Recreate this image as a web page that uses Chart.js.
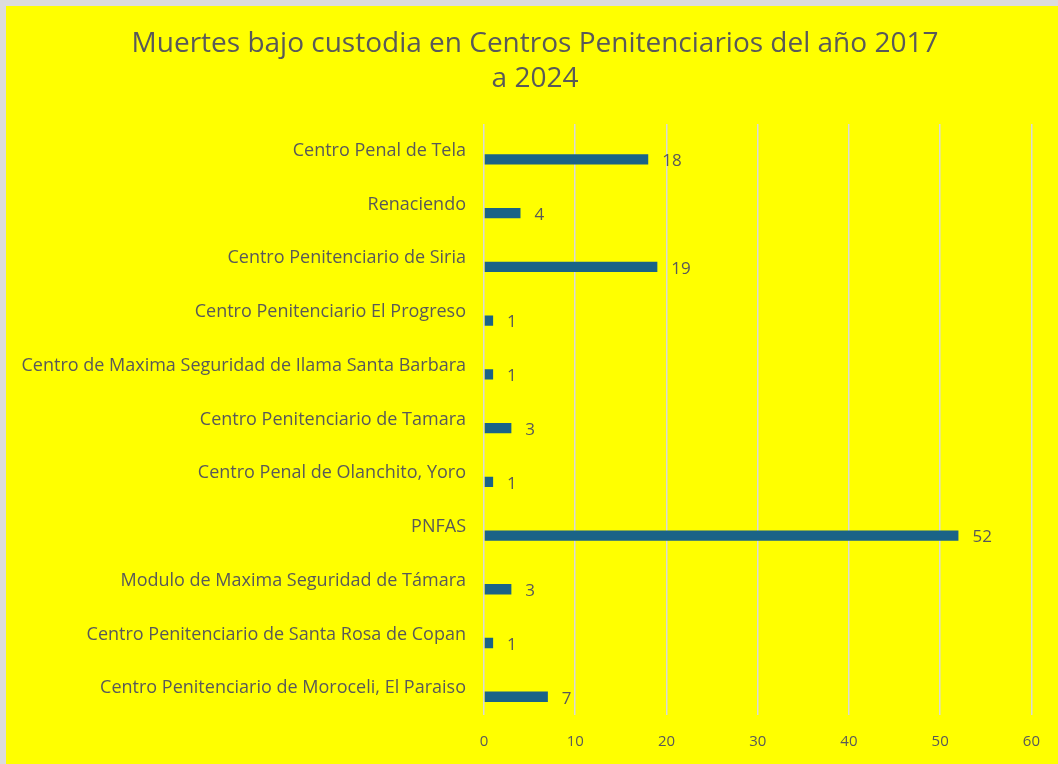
<!DOCTYPE html>
<html>
<head>
<meta charset="utf-8">
<script src="https://cdn.jsdelivr.net/npm/chart.js@4.4.1/dist/chart.umd.min.js"></script>
<style>
  html, body { margin: 0; padding: 0; background: #dcdcdc; }
  #wrap { position: absolute; left: 6px; top: 6px; width: 1052px; height: 758px; background: #ffff00; }
</style>
</head>
<body>
<div id="wrap"><canvas id="c" width="1052" height="758"></canvas></div>
<script>
// categories top -> bottom, as shown
const centros = [
  "Centro Penal de Tela",
  "Renaciendo",
  "Centro Penitenciario de Siria",
  "Centro Penitenciario El Progreso",
  "Centro de Maxima Seguridad de Ilama Santa Barbara",
  "Centro Penitenciario de Tamara",
  "Centro Penal de Olanchito, Yoro",
  "PNFAS",
  "Modulo de Maxima Seguridad de Támara",
  "Centro Penitenciario de Santa Rosa de Copan",
  "Centro Penitenciario de Moroceli, El Paraiso",
];
const muertes = [18, 4, 19, 1, 1, 3, 1, 52, 3, 1, 7];
const vacio = centros.map(() => null); // empty first series (Excel layout)
const xTicks = [0, 10, 20, 30, 40, 50, 60];
const titulo = ["Muertes bajo custodia en Centros Penitenciarios del año 2017", "a 2024"];

const GRIS = "#595959";
const FONT = "'Open Sans', 'Liberation Sans', sans-serif";

// value labels to the right of each bar + title centred on the whole chart box
const etiquetas = {
  id: "etiquetas",
  afterDatasetsDraw(chart) {
    const ctx = chart.ctx;
    const meta = chart.getDatasetMeta(1);
    ctx.save();
    ctx.font = "17px " + FONT;
    ctx.fillStyle = GRIS;
    ctx.textBaseline = "middle";
    ctx.textAlign = "left";
    meta.data.forEach((bar, i) => {
      ctx.fillText(String(muertes[i]), bar.x + 14, bar.y + 2);
    });
    ctx.font = "28px " + FONT;
    ctx.textAlign = "center";
    titulo.forEach((t, i) => ctx.fillText(t, 529, 38 + i * 35));
    ctx.restore();
  },
};

new Chart(document.getElementById("c"), {
  type: "bar",
  data: {
    labels: centros,
    datasets: [
      { label: "", data: vacio, backgroundColor: "transparent" },
      { label: "Muertes", data: muertes, backgroundColor: "#1a6387" },
    ],
  },
  options: {
    indexAxis: "y",
    responsive: false,
    animation: false,
    datasets: { bar: { categoryPercentage: 0.64, barPercentage: 0.6 } },
    layout: { padding: { top: 118, right: 26, bottom: 12, left: 0 } },
    plugins: {
      legend: { display: false },
      tooltip: { enabled: false },
      title: { display: false },
    },
    scales: {
      x: {
        min: 0, max: 60,
        afterBuildTicks(s) { s.ticks = xTicks.map(v => ({ value: v })); },
        grid: { color: "#d9d9d9", lineWidth: 1.5, drawTicks: false },
        border: { display: false },
        ticks: { color: GRIS, font: { family: FONT, size: 15 }, padding: 18 },
        afterFit(s) { s.height = 37; },
      },
      y: {
        grid: { display: false, drawTicks: false },
        border: { display: false },
        ticks: { color: GRIS, font: { family: FONT, size: 18 }, padding: 18 },
        afterFit(s) { s.width = 478; },
      },
    },
  },
  plugins: [etiquetas],
});
</script>
</body>
</html>
